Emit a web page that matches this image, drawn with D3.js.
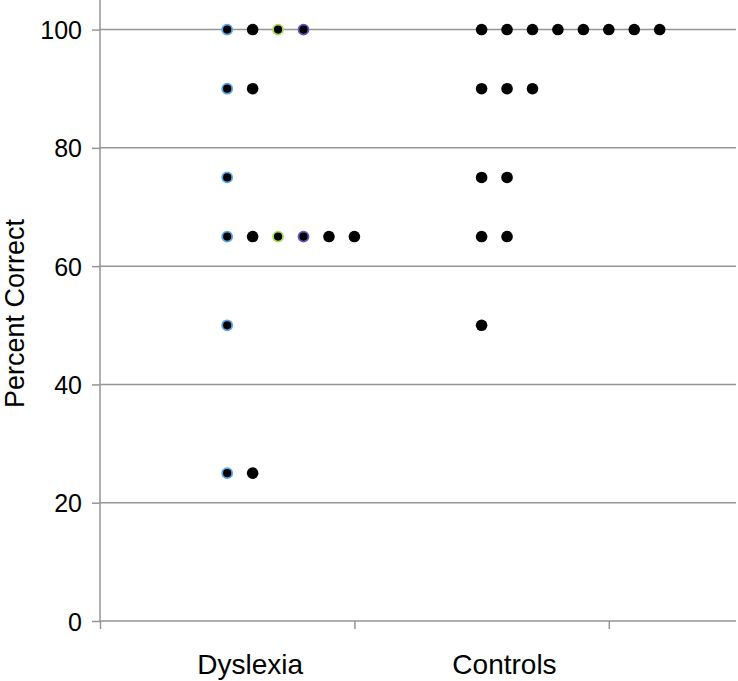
<!DOCTYPE html>
<html>
<head>
<meta charset="utf-8">
<script src="https://cdn.jsdelivr.net/npm/d3@7"></script>
<style>
  html, body { margin: 0; padding: 0; background: #fff; }
  svg { display: block; font-family: "Liberation Sans", Arial, sans-serif; }
</style>
</head>
<body>
<div id="chart"></div>
<script>
  // groups and their score levels, with how many subjects got each score
  const groups = ["Dyslexia", "Controls"];
  const dyslexiaScores = [100, 90, 75, 65, 50, 25];
  const dyslexiaCounts = [4, 2, 1, 6, 1, 2];
  const controlScores = [100, 90, 75, 65, 50];
  const controlCounts = [8, 3, 2, 2, 1];
  const yTicks = [0, 20, 40, 60, 80, 100];

  // outline colour by column within the Dyslexia group (series colours)
  const dyslexiaOutline = ["#58a6ea", null, "#a6dc50", "#6a52c8", null, null];

  const width = 738, height = 681;
  const margin = { top: 0, right: 2, bottom: 60, left: 100 };

  const x = d3.scaleLinear().domain([0.5, 3.0]).range([margin.left, width - margin.right]);
  const y = d3.scaleLinear().domain([0, 105]).range([height - margin.bottom, margin.top]);

  const svg = d3.select("#chart").append("svg")
    .attr("width", width)
    .attr("height", height);

  // gridlines
  svg.append("g")
    .selectAll("line")
    .data(yTicks.filter(d => d > 0))
    .join("line")
      .attr("x1", margin.left)
      .attr("x2", width - margin.right)
      .attr("y1", d => y(d))
      .attr("y2", d => y(d))
      .attr("stroke", "#959595")
      .attr("stroke-width", 1.5);

  // y axis
  const yAxis = svg.append("g")
    .attr("transform", `translate(${margin.left},0)`)
    .call(d3.axisLeft(y).tickValues(yTicks).tickSize(8).tickPadding(10));
  yAxis.select(".domain").remove();
  yAxis.append("line")
    .attr("y1", 0).attr("y2", y(0))
    .attr("stroke", "#959595").attr("stroke-width", 1.5);
  yAxis.selectAll(".tick line").attr("stroke", "#959595").attr("stroke-width", 1.5);
  yAxis.selectAll(".tick text")
    .attr("fill", "#000")
    .attr("dy", "0.36em")
    .style("font-size", "25px")
    .style("font-family", "'Liberation Sans', Arial, sans-serif");

  // x axis
  const xAxis = svg.append("g")
    .attr("transform", `translate(0,${y(0)})`)
    .call(d3.axisBottom(x).tickValues([0.5, 1.5, 2.5]).tickSize(8).tickFormat(""));
  xAxis.select(".domain").attr("stroke", "#959595").attr("stroke-width", 1.5)
    .attr("d", `M${x(0.5)},0H${width - margin.right}`);
  xAxis.selectAll(".tick line").attr("stroke", "#959595").attr("stroke-width", 1.5);

  // category labels
  svg.append("g")
    .selectAll("text")
    .data(groups)
    .join("text")
      .attr("x", (d, i) => x(i + 1.09))
      .attr("y", 674)
      .attr("text-anchor", "middle")
      .style("font-size", "28px")
      .text(d => d);

  // y label
  svg.append("text")
    .attr("transform", `translate(24,${y(52)}) rotate(-90)`)
    .attr("text-anchor", "middle")
    .style("font-size", "27px")
    .text("Percent Correct");

  // points: one column step of 0.1 per subject sharing a score
  const points = [];
  dyslexiaScores.forEach((s, i) => {
    for (let k = 0; k < dyslexiaCounts[i]; k++)
      points.push({ x: 1 + k * 0.1, y: s, outline: dyslexiaOutline[k] });
  });
  controlScores.forEach((s, i) => {
    for (let k = 0; k < controlCounts[i]; k++)
      points.push({ x: 2 + k * 0.1, y: s, outline: null });
  });

  svg.append("g")
    .selectAll("circle")
    .data(points)
    .join("circle")
      .attr("cx", d => x(d.x))
      .attr("cy", d => y(d.y))
      .attr("r", d => d.outline ? 5 : 5.8)
      .attr("fill", "#000")
      .attr("stroke", d => d.outline || "none")
      .attr("stroke-width", 1.8);
</script>
</body>
</html>
